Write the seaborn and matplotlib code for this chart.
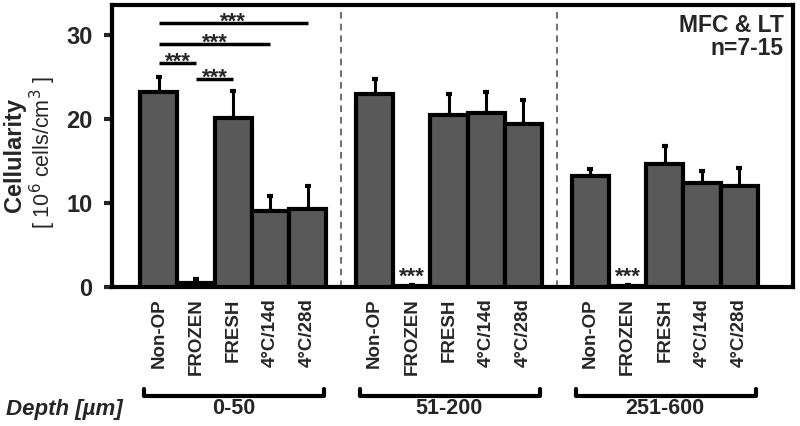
import numpy as np
import pandas as pd
import matplotlib
matplotlib.use("Agg")
import matplotlib.pyplot as plt
import seaborn as sns

# -----------------------------------
# DATA
# -----------------------------------

treatments = ["Non-OP", "FROZEN", "FRESH", "4°C/14d", "4°C/28d"]
depths = ["0-50", "51-200", "251-600"]

cell_0_50 = [23.2, 0.5, 20.2, 9.1, 9.3]
cell_51_200 = [23.0, 0.1, 20.5, 20.7, 19.4]
cell_251_600 = [13.2, 0.1, 14.7, 12.4, 12.0]

err_0_50 = [1.8, 0.5, 3.2, 1.7, 2.7]
err_51_200 = [1.8, 0.2, 2.5, 2.6, 2.9]
err_251_600 = [0.9, 0.2, 2.1, 1.4, 2.2]

# significance lines in group 0-50: (from bar, to bar, height)
sig_from = [0, 0, 0, 1]
sig_to = [4, 3, 1, 2]
sig_height = [31.5, 29.0, 26.7, 24.8]

# -----------------------------------
# BUILD TABLE
# -----------------------------------

group_step = 5.8
rows = []
for g, (vals, errs) in enumerate(zip([cell_0_50, cell_51_200, cell_251_600],
                                     [err_0_50, err_51_200, err_251_600])):
    for j, t in enumerate(treatments):
        rows.append({"pos": g * group_step + j, "depth": depths[g],
                     "treatment": t, "value": vals[j], "err": errs[j]})
df = pd.DataFrame(rows)

# -----------------------------------
# PLOT
# -----------------------------------

sns.set_style("white")
plt.rcParams["font.family"] = ["Liberation Sans", "DejaVu Sans"]

fig = plt.figure(figsize=(8, 4.26), dpi=100)
ax = fig.add_axes([0.14, 0.326, 0.851, 0.662])

sns.barplot(data=df, x="pos", y="value", native_scale=True, width=1.0,
            color="#595959", saturation=1, edgecolor="black", linewidth=3,
            errorbar=None, ax=ax, zorder=3)

ax.errorbar(df["pos"], df["value"], yerr=[np.zeros(len(df)), df["err"]],
            fmt="none", ecolor="black", elinewidth=2.2, capsize=2.5,
            capthick=3, zorder=2)

# dashed separators between depth groups
for g in range(1, len(depths)):
    ax.axvline(g * group_step - (group_step - 4) / 2, color="#555555",
               linestyle=(0, (4, 3)), linewidth=1.2, zorder=1)

# significance bars
for a, b, h in zip(sig_from, sig_to, sig_height):
    ax.plot([a, b], [h, h], color="black", linewidth=2.5, solid_capstyle="butt",
            clip_on=False, zorder=4)
    ax.text((a + b) / 2, h - 0.6, "***", ha="center", va="baseline",
            fontsize=16, fontweight="bold")

# stars over the FROZEN bars in deeper groups
for g in [1, 2]:
    ax.text(g * group_step + 1, 0.55, "***", ha="center", va="baseline",
            fontsize=16, fontweight="bold")

ax.text(0.987, 0.97, "MFC & LT\nn=7-15", transform=ax.transAxes,
        ha="right", va="top", fontsize=16.5, fontweight="bold",
        linespacing=1.05)

ax.set_xlim(-1.26, 17.04)
ax.set_ylim(0, 33.6)
ax.set_yticks([0, 10, 20, 30])
ax.set_yticklabels(["0", "10", "20", "30"], fontsize=17, fontweight="bold")
ax.set_xticks(df["pos"])
ax.set_xticklabels(df["treatment"], rotation=90, fontsize=13.5,
                   fontweight="bold")
ax.tick_params(axis="x", length=0, pad=8)
ax.tick_params(axis="y", length=6, width=3, direction="out", left=True, pad=8)
ax.set_xlabel("")
ax.set_ylabel("")

# y label in two lines: bold title and regular unit
fig.text(15 / 800, 1 - 155 / 426, "Cellularity", rotation=90, ha="center",
         va="center", fontsize=17, fontweight="bold")
fig.text(43 / 800, 1 - 153 / 426, "[ 10$^6$ cells/cm$^3$ ]", rotation=90,
         ha="center", va="center", fontsize=15.5)

for s in ax.spines.values():
    s.set_linewidth(3)
    s.set_color("black")

# depth brackets below tick labels
trans = matplotlib.transforms.blended_transform_factory(ax.transData,
                                                        ax.transAxes)
for g, d in enumerate(depths):
    x0 = g * group_step - 0.4
    x1 = g * group_step + 4.45
    ax.plot([x0, x0, x1, x1], [-0.36, -0.385, -0.385, -0.36], color="black",
            linewidth=3, transform=trans, clip_on=False)
    ax.text(g * group_step + 2, -0.43, d, transform=trans, ha="center",
            va="center", fontsize=15.5, fontweight="bold")

fig.text(0.008, 1 - 409 / 426, "Depth [µm]", ha="left", va="center",
         fontsize=16, fontweight="bold", fontstyle="italic")

fig.savefig("out.png", dpi=100)
